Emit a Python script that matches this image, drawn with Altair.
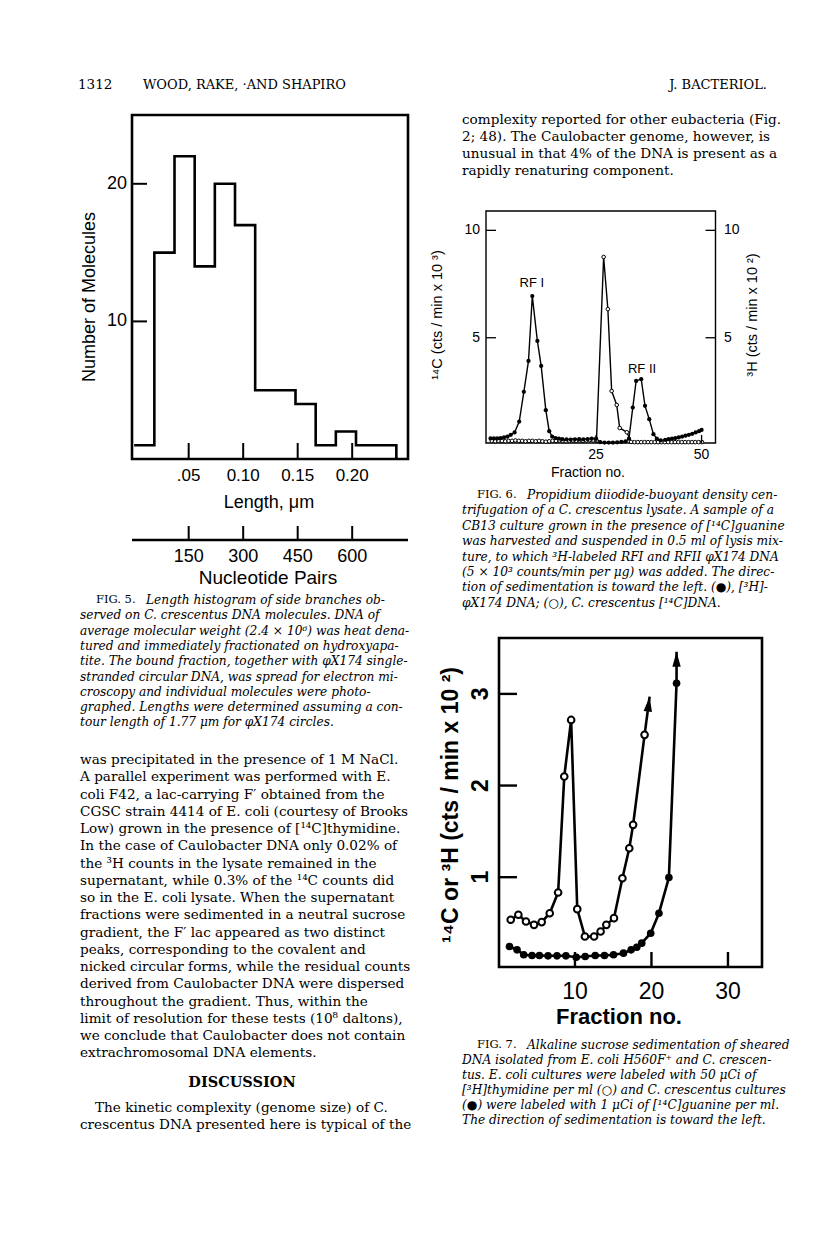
import altair as alt
import pandas as pd

# ======================= DATA =======================
# Fig. 5 histogram (length, um)
hist_edges = [0.0, 0.0185, 0.037, 0.0555, 0.074, 0.0925, 0.111, 0.1295, 0.148,
              0.1665, 0.185, 0.2035, 0.222, 0.2405]
hist_counts = [1, 15, 22, 14, 20, 17, 5, 5, 4, 1, 2, 1, 1]
len_ticks = [0.05, 0.10, 0.15, 0.20]
len_labels = [".05", "0.10", "0.15", "0.20"]
count_ticks = [10, 20]
count_labels = ["10", "20"]
nt_ticks = [150, 300, 450, 600]
nt_labels = ["150", "300", "450", "600"]

# Fig. 6 (filled = 3H phiX174, open = C. crescentus 14C)
f6_filled_x = [0.0, 0.8, 1.6, 2.4, 3.2, 4.0, 4.8, 5.7, 6.8, 7.9, 9.0, 9.9, 11.1, 12.0,
               13.1, 13.9, 14.6, 15.4, 16.2, 17.0, 18.0, 19.0, 20.0, 21.0, 22.0, 23.0,
               24.0, 25.0, 26.0, 27.0, 28.0, 29.0, 30.0, 31.0, 32.0, 32.8, 33.7, 34.5,
               35.7, 36.6, 37.6, 38.6, 39.4, 40.3, 41.4, 42.2, 43.0, 43.8, 44.6, 45.4,
               46.2, 47.0, 47.8, 48.6, 49.4, 50.0]
f6_filled_y = [0.31, 0.31, 0.31, 0.33, 0.36, 0.40, 0.48, 0.59, 1.10, 2.48, 3.92, 6.94,
               4.85, 3.69, 1.63, 0.65, 0.40, 0.33, 0.30, 0.28, 0.27, 0.26, 0.27, 0.28,
               0.27, 0.28, 0.30, 0.30, 0.14, 0.12, 0.12, 0.12, 0.13, 0.15, 0.18, 0.30,
               1.75, 2.99, 3.07, 1.83, 1.21, 0.51, 0.30, 0.22, 0.25, 0.28, 0.30, 0.33,
               0.36, 0.40, 0.44, 0.48, 0.53, 0.59, 0.65, 0.71]
f6_open_x = [0.3, 1.1, 1.9, 2.7, 3.5, 4.3, 5.1, 5.9, 6.7, 7.5, 8.3, 9.1, 9.9, 10.7,
             11.5, 12.3, 13.1, 13.9, 14.7, 15.5, 16.3, 17.1, 17.9, 18.7, 19.5, 20.3,
             21.1, 21.9, 22.7, 23.5, 24.3, 25.1, 26.8, 27.8, 28.7, 29.9, 30.6, 32.3,
             33.3, 34.1, 34.9, 35.7, 36.5, 37.3, 38.1, 38.9, 39.7, 40.5, 41.3, 42.1,
             42.9, 43.7, 44.5, 45.3, 46.1, 46.9, 47.7, 48.5, 49.3, 50.1]
f6_open_y = [0.20, 0.18, 0.20, 0.20, 0.18, 0.20, 0.20, 0.22, 0.20, 0.20, 0.18, 0.20,
             0.20, 0.18, 0.20, 0.18, 0.16, 0.18, 0.20, 0.20, 0.22, 0.20, 0.18, 0.20,
             0.22, 0.20, 0.22, 0.20, 0.22, 0.24, 0.22, 0.20, 8.76, 6.33, 2.52, 1.87,
             0.80, 0.60, 0.15, 0.14, 0.14, 0.14, 0.14, 0.14, 0.14, 0.14, 0.14, 0.14,
             0.14, 0.14, 0.14, 0.14, 0.14, 0.14, 0.14, 0.14, 0.14, 0.14, 0.14, 0.14]
f6_y_ticks = [5, 10]
f6_y_labels = ["5", "10"]
f6_x_ticks = [25, 50]
f6_x_labels = ["25", "50"]
f6_note_x = [9.8, 35.9]
f6_note_y = [7.56, 3.56]
f6_note_text = ["RF I", "RF II"]

# Fig. 7 (open = E. coli 3H, filled = C. crescentus 14C)
f7_open_x = [1.6, 2.6, 3.6, 4.65, 5.65, 6.7, 7.8, 8.6, 9.5, 10.3, 11.3, 12.5, 13.35,
             14.1, 15.1, 16.2, 17.1, 17.6, 19.1]
f7_open_y = [0.535, 0.59, 0.516, 0.48, 0.51, 0.607, 0.833, 2.098, 2.716, 0.651, 0.353,
             0.353, 0.407, 0.48, 0.553, 0.989, 1.316, 1.571, 2.553]
f7_filled_x = [1.44, 2.43, 3.3, 4.39, 5.35, 6.48, 7.65, 8.82, 10.17, 11.34, 12.65,
               13.86, 15.04, 16.34, 17.34, 18.08, 18.73, 19.9, 20.98, 22.28, 23.28]
f7_filled_y = [0.244, 0.207, 0.153, 0.145, 0.145, 0.142, 0.142, 0.142, 0.127, 0.135,
               0.145, 0.145, 0.153, 0.171, 0.207, 0.236, 0.28, 0.389, 0.607, 0.996, 3.116]
f7_arrow_from_x = [19.1, 23.28]
f7_arrow_from_y = [2.553, 3.116]
f7_arrow_to_x = [19.76, 23.28]
f7_arrow_to_y = [2.97, 3.46]
f7_arrow_angle = [7, 0]
f7_y_ticks = [1, 2, 3]
f7_y_labels = ["1", "2", "3"]
f7_x_ticks = [10, 20, 30]
f7_x_labels = ["10", "20", "30"]

# Text
header_left_num = "1312"
header_authors = "WOOD, RAKE, \u00b7AND SHAPIRO"
header_journal = "J. BACTERIOL."

right_top_lines = [
    "complexity reported for other eubacteria (Fig.",
    "2; 48). The Caulobacter genome, however, is",
    "unusual in that 4% of the DNA is present as a",
    "rapidly renaturing component.",
]
fig5_caption = [
    "Length histogram of side branches ob-",
    "served on C. crescentus DNA molecules. DNA of",
    "average molecular weight (2.4 \u00d7 10\u2076) was heat dena-",
    "tured and immediately fractionated on hydroxyapa-",
    "tite. The bound fraction, together with \u03c6X174 single-",
    "stranded circular DNA, was spread for electron mi-",
    "croscopy and individual molecules were photo-",
    "graphed. Lengths were determined assuming a con-",
    "tour length of 1.77 \u03bcm for \u03c6X174 circles.",
]
fig6_caption = [
    "Propidium diiodide-buoyant density cen-",
    "trifugation of a C. crescentus lysate. A sample of a",
    "CB13 culture grown in the presence of [\u00b9\u2074C]guanine",
    "was harvested and suspended in 0.5 ml of lysis mix-",
    "ture, to which \u00b3H-labeled RFI and RFII \u03c6X174 DNA",
    "(5 \u00d7 10\u00b3 counts/min per \u03bcg) was added. The direc-",
    "tion of sedimentation is toward the left. (\u25cf), [\u00b3H]-",
    "\u03c6X174 DNA; (\u25cb), C. crescentus [\u00b9\u2074C]DNA.",
]
fig7_caption = [
    "Alkaline sucrose sedimentation of sheared",
    "DNA isolated from E. coli H560F\u207a and C. crescen-",
    "tus. E. coli cultures were labeled with 50 \u03bcCi of",
    "[\u00b3H]thymidine per ml (\u25cb) and C. crescentus cultures",
    "(\u25cf) were labeled with 1 \u03bcCi of [\u00b9\u2074C]guanine per ml.",
    "The direction of sedimentation is toward the left.",
]
body_lines = [
    "was precipitated in the presence of 1 M NaCl.",
    "A parallel experiment was performed with E.",
    "coli F42, a lac-carrying F\u2032 obtained from the",
    "CGSC strain 4414 of E. coli (courtesy of Brooks",
    "Low) grown in the presence of [\u00b9\u2074C]thymidine.",
    "In the case of Caulobacter DNA only 0.02% of",
    "the \u00b3H counts in the lysate remained in the",
    "supernatant, while 0.3% of the \u00b9\u2074C counts did",
    "so in the E. coli lysate. When the supernatant",
    "fractions were sedimented in a neutral sucrose",
    "gradient, the F\u2032 lac appeared as two distinct",
    "peaks, corresponding to the covalent and",
    "nicked circular forms, while the residual counts",
    "derived from Caulobacter DNA were dispersed",
    "throughout the gradient. Thus, within the",
    "limit of resolution for these tests (10\u2078 daltons),",
    "we conclude that Caulobacter does not contain",
    "extrachromosomal DNA elements.",
]
discussion_head = "DISCUSSION"
discussion_lines = [
    "The kinetic complexity (genome size) of C.",
    "crescentus DNA presented here is typical of the",
]

# ======================= LAYOUT HELPERS =======================
M = 8  # page margin


def X(p):
    return p - M


def Y(p):
    return p - M


def sc(domain, r0, r1):
    return alt.Scale(domain=domain, range=[r0, r1], nice=False, zero=False)


SERIF = "DejaVu Serif"
SANS = "Liberation Sans, Arial, DejaVu Sans"
NARROW = "Liberation Sans Narrow, Liberation Sans, DejaVu Sans"


def label(text, x, y, **kw):
    return alt.Chart(pd.DataFrame({"t": [text]})).mark_text(**kw).encode(
        text="t:N", x=alt.value(X(x)), y=alt.value(Y(y)))


def block(lines, x, y0, dy, **kw):
    n = len(lines)
    df = pd.DataFrame({"i": list(range(n)), "t": lines})
    return alt.Chart(df).mark_text(align="left", baseline="middle", **kw).encode(
        text="t:N", x=alt.value(X(x)),
        y=alt.Y("i:Q", axis=None, scale=sc([0, n - 1], Y(y0), Y(y0 + dy * (n - 1)))))


def frame(xs, ys, dom_x, dom_y, sw):
    df = pd.DataFrame({"a": [dom_x[0]], "b": [dom_x[1]], "c": [dom_y[0]], "d": [dom_y[1]]})
    return alt.Chart(df).mark_rect(fillOpacity=0, stroke="black", strokeWidth=sw).encode(
        x=alt.X("a:Q", scale=xs, axis=None), x2="b:Q",
        y=alt.Y("c:Q", scale=ys, axis=None), y2="d:Q")


# ======================= FIG 5 =======================
d5x = [-0.002, 0.2512]
d5y = [0, 25]
x5 = sc(d5x, X(132), X(408))
y5 = sc(d5y, Y(459), Y(115))
df5 = pd.DataFrame({"len": hist_edges, "n": hist_counts + [0]})
hist = alt.Chart(df5).mark_line(interpolate="step-after", color="black", strokeWidth=2.6,
                                strokeJoin="miter").encode(
    x=alt.X("len:Q", scale=x5, axis=None), y=alt.Y("n:Q", scale=y5, axis=None))
df5yt = pd.DataFrame({"v": count_ticks, "lab": count_labels})
y5ticks = alt.Chart(df5yt).mark_rule(color="black", strokeWidth=2).encode(
    y=alt.Y("v:Q", scale=y5, axis=None), x=alt.value(X(132)), x2=alt.value(X(147)))
y5labs = alt.Chart(df5yt).mark_text(align="right", baseline="middle", font=SANS,
                                    fontSize=18).encode(
    y=alt.Y("v:Q", scale=y5, axis=None), x=alt.value(X(127)), text="lab:N")
df5xt = pd.DataFrame({"v": len_ticks, "lab": len_labels})
x5ticks = alt.Chart(df5xt).mark_rule(color="black", strokeWidth=2).encode(
    x=alt.X("v:Q", scale=x5, axis=None), y=alt.value(Y(443)), y2=alt.value(Y(459)))
x5labs = alt.Chart(df5xt).mark_text(align="center", baseline="middle", font=NARROW,
                                    fontSize=17).encode(
    x=alt.X("v:Q", scale=x5, axis=None), y=alt.value(Y(476)), text="lab:N")
fig5 = alt.layer(frame(x5, y5, d5x, d5y, 2.6), hist, y5ticks, y5labs, x5ticks, x5labs)

# nucleotide axis
dnt = [-6, 753.6]
xnt = sc(dnt, X(132), X(408))
dfnt_line = pd.DataFrame({"a": [dnt[0]], "b": [dnt[1]]})
nt_line = alt.Chart(dfnt_line).mark_rule(color="black", strokeWidth=2.6).encode(
    x=alt.X("a:Q", scale=xnt, axis=None), x2="b:Q", y=alt.value(Y(540)))
dfnt = pd.DataFrame({"v": nt_ticks, "lab": nt_labels})
nt_tk = alt.Chart(dfnt).mark_rule(color="black", strokeWidth=2).encode(
    x=alt.X("v:Q", scale=xnt, axis=None), y=alt.value(Y(526)), y2=alt.value(Y(540)))
nt_lb = alt.Chart(dfnt).mark_text(align="center", baseline="middle", font=NARROW,
                                  fontSize=18).encode(
    x=alt.X("v:Q", scale=xnt, axis=None), y=alt.value(Y(557)), text="lab:N")
ntaxis = alt.layer(nt_line, nt_tk, nt_lb)

fig5_texts = [
    label("Number of Molecules", 90, 297, angle=270, align="center", baseline="middle",
          font=SANS, fontSize=18),
    label("Length, \u03bcm", 269, 503, align="center", baseline="middle", font=SANS,
          fontSize=18),
    label("Nucleotide Pairs", 268, 578, align="center", baseline="middle", font=SANS,
          fontSize=19),
]

# ======================= FIG 6 =======================
d6x = [-1.07, 53.3]
d6y = [0.1, 10.9]
x6 = sc(d6x, X(486), X(715.5))
y6 = sc(d6y, Y(443), Y(211))
df6f = pd.DataFrame({"f": f6_filled_x, "v": f6_filled_y})
df6o = pd.DataFrame({"f": f6_open_x, "v": f6_open_y})
enc6 = dict(x=alt.X("f:Q", scale=x6, axis=None), y=alt.Y("v:Q", scale=y6, axis=None))
l6f = alt.Chart(df6f).mark_line(color="black", strokeWidth=1.4).encode(**enc6)
l6o = alt.Chart(df6o).mark_line(color="black", strokeWidth=1.4).encode(**enc6)
p6o = alt.Chart(df6o).mark_circle(fill="white", stroke="black", strokeWidth=1,
                                  size=13, opacity=1).encode(**enc6)
p6f = alt.Chart(df6f).mark_circle(color="black", size=18, opacity=1).encode(**enc6)
df6yt = pd.DataFrame({"v": f6_y_ticks, "lab": f6_y_labels})
t6l = alt.Chart(df6yt).mark_rule(color="black", strokeWidth=1.3).encode(
    y=alt.Y("v:Q", scale=y6, axis=None), x=alt.value(X(486)), x2=alt.value(X(496)))
t6r = alt.Chart(df6yt).mark_rule(color="black", strokeWidth=1.3).encode(
    y=alt.Y("v:Q", scale=y6, axis=None), x=alt.value(X(705.5)), x2=alt.value(X(715.5)))
lb6l = alt.Chart(df6yt).mark_text(align="right", baseline="middle", font=SANS,
                                  fontSize=14).encode(
    y=alt.Y("v:Q", scale=y6, axis=None), x=alt.value(X(480)), text="lab:N")
lb6r = alt.Chart(df6yt).mark_text(align="left", baseline="middle", font=SANS,
                                  fontSize=14).encode(
    y=alt.Y("v:Q", scale=y6, axis=None), x=alt.value(X(724)), text="lab:N")
df6xt = pd.DataFrame({"v": f6_x_ticks, "lab": f6_x_labels})
t6b = alt.Chart(df6xt).mark_rule(color="black", strokeWidth=1.3).encode(
    x=alt.X("v:Q", scale=x6, axis=None), y=alt.value(Y(435)), y2=alt.value(Y(443)))
lb6b = alt.Chart(df6xt).mark_text(align="center", baseline="middle", font=SANS,
                                  fontSize=14).encode(
    x=alt.X("v:Q", scale=x6, axis=None), y=alt.value(Y(455)), text="lab:N")
df6n = pd.DataFrame({"f": f6_note_x, "v": f6_note_y, "t": f6_note_text})
n6 = alt.Chart(df6n).mark_text(align="center", baseline="middle", font=SANS,
                               fontSize=13).encode(text="t:N", **enc6)
fig6 = alt.layer(frame(x6, y6, d6x, d6y, 1.4), l6o, l6f, p6o, p6f, t6l, t6r, lb6l, lb6r,
                 t6b, lb6b, n6)
fig6_texts = [
    label("\u00b9\u2074C (cts / min x 10 \u00b3)", 438, 315, angle=270, align="center",
          baseline="middle", font=SANS, fontSize=14.5),
    label("\u00b3H (cts / min x 10 \u00b2)", 753, 315, angle=270, align="center",
          baseline="middle", font=SANS, fontSize=14.5),
    label("Fraction  no.", 588, 473, align="center", baseline="middle", font=SANS,
          fontSize=14),
]

# ======================= FIG 7 =======================
d7x = [0.07, 34.45]
d7y = [0.02, 3.61]
x7 = sc(d7x, X(499), X(762))
y7 = sc(d7y, Y(967), Y(638))
df7f = pd.DataFrame({"f": f7_filled_x, "v": f7_filled_y})
df7o = pd.DataFrame({"f": f7_open_x, "v": f7_open_y})
enc7 = dict(x=alt.X("f:Q", scale=x7, axis=None), y=alt.Y("v:Q", scale=y7, axis=None))
l7f = alt.Chart(df7f).mark_line(color="black", strokeWidth=2.6).encode(**enc7)
l7o = alt.Chart(df7o).mark_line(color="black", strokeWidth=2.6).encode(**enc7)
dfar = pd.DataFrame({
    "f": f7_arrow_from_x + f7_arrow_to_x,
    "v": f7_arrow_from_y + f7_arrow_to_y,
    "g": [0, 1, 0, 1],
})
ar7 = alt.Chart(dfar).mark_line(color="black", strokeWidth=2.6).encode(
    detail="g:N", **enc7)
dfhead = pd.DataFrame({"f": f7_arrow_to_x, "v": f7_arrow_to_y, "a": f7_arrow_angle})
head7 = alt.Chart(dfhead).mark_point(
    shape="M0,0L0.28,1L-0.28,1Z", filled=True, color="black", size=900, opacity=1,
    strokeWidth=0).encode(angle=alt.Angle("a:Q", scale=None), **enc7)
p7o = alt.Chart(df7o).mark_circle(fill="white", stroke="black", strokeWidth=2,
                                  size=44, opacity=1).encode(**enc7)
p7f = alt.Chart(df7f).mark_circle(color="black", size=58, opacity=1).encode(**enc7)
df7yt = pd.DataFrame({"v": f7_y_ticks, "lab": f7_y_labels})
t7l = alt.Chart(df7yt).mark_rule(color="black", strokeWidth=2.4).encode(
    y=alt.Y("v:Q", scale=y7, axis=None), x=alt.value(X(499)), x2=alt.value(X(517)))
lb7l = alt.Chart(df7yt).mark_text(align="center", baseline="middle", angle=270,
                                  font=SANS, fontSize=23, fontWeight="bold").encode(
    y=alt.Y("v:Q", scale=y7, axis=None), x=alt.value(X(481)), text="lab:N")
df7xt = pd.DataFrame({"v": f7_x_ticks, "lab": f7_x_labels})
t7b = alt.Chart(df7xt).mark_rule(color="black", strokeWidth=2.4).encode(
    x=alt.X("v:Q", scale=x7, axis=None), y=alt.value(Y(952)), y2=alt.value(Y(967)))
lb7b = alt.Chart(df7xt).mark_text(align="center", baseline="middle", font=SANS,
                                  fontSize=23).encode(
    x=alt.X("v:Q", scale=x7, axis=None), y=alt.value(Y(992)), text="lab:N")
fig7 = alt.layer(frame(x7, y7, d7x, d7y, 2.6), l7o, l7f, ar7, head7, p7o, p7f, t7l, lb7l,
                 t7b, lb7b)
fig7_texts = [
    label("\u00b9\u2074C or \u00b3H  (cts / min x 10 \u00b2)", 451, 805, angle=270,
          align="center", baseline="middle", font=SANS, fontSize=23, fontWeight="bold"),
    label("Fraction  no.", 619, 1017, align="center", baseline="middle", font=SANS,
          fontSize=22, fontWeight="bold"),
]

# ======================= PAGE TEXT =======================
BODY = 13.6
text_layers = [
    label(header_left_num, 78, 85, align="left", baseline="middle", font=SERIF, fontSize=13.5),
    label(header_authors, 143, 85, align="left", baseline="middle", font=SERIF, fontSize=13),
    label(header_journal, 767, 85, align="right", baseline="middle", font=SERIF, fontSize=13),
    block(right_top_lines, 462, 120, 17.1, font=SERIF, fontSize=BODY),
    # Fig 5 caption
    label("FIG. 5.", 96, 600, align="left", baseline="middle", font=SERIF, fontSize=11.5),
    block(fig5_caption[:1] + [""], 146, 600, 15.3, font=SERIF, fontSize=12.2, fontStyle="italic"),
    block(fig5_caption[1:], 80, 615.3, 15.3, font=SERIF, fontSize=12.2, fontStyle="italic"),
    # Fig 6 caption
    label("FIG. 6.", 477, 495, align="left", baseline="middle", font=SERIF, fontSize=11.5),
    block(fig6_caption[:1] + [""], 527, 495, 15.4, font=SERIF, fontSize=12.2, fontStyle="italic"),
    block(fig6_caption[1:], 462, 510.4, 15.4, font=SERIF, fontSize=12.2, fontStyle="italic"),
    # Fig 7 caption
    label("FIG. 7.", 477, 1045, align="left", baseline="middle", font=SERIF, fontSize=11.5),
    block(fig7_caption[:1] + [""], 527, 1045, 15, font=SERIF, fontSize=12.2, fontStyle="italic"),
    block(fig7_caption[1:], 462, 1060, 15, font=SERIF, fontSize=12.2, fontStyle="italic"),
    # body
    block(body_lines, 80, 760, 17.25, font=SERIF, fontSize=BODY),
    label(discussion_head, 242, 1083, align="center", baseline="middle", font=SERIF,
          fontSize=14.5, fontWeight="bold"),
    label(discussion_lines[0], 95, 1108, align="left", baseline="middle", font=SERIF,
          fontSize=BODY),
    label(discussion_lines[1], 80, 1125, align="left", baseline="middle", font=SERIF,
          fontSize=BODY),
]

chart = alt.layer(
    fig5, ntaxis, fig6, fig7, *fig5_texts, *fig6_texts, *fig7_texts, *text_layers
).resolve_scale(x="independent", y="independent").properties(
    width=795, height=1150, padding=0, autosize="none", background="white"
).configure_view(stroke="transparent", strokeWidth=0)

chart.save("out.html", embed_options={"renderer": "svg", "actions": False})
